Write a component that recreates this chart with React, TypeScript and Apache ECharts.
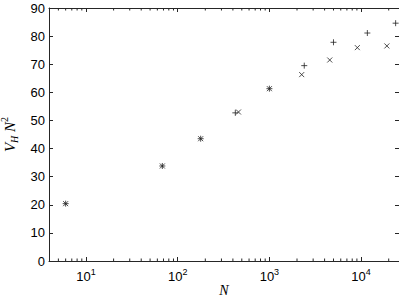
import React, { useEffect, useRef } from "react";
import * as echarts from "echarts";

const plusSeries: [number, number][] = [
  [6, 20.4], [68, 33.8], [178, 43.5], [425, 52.7], [1000, 61.3],
  [2400, 69.5], [5000, 77.8], [11700, 81.1], [23800, 84.6],
];
const crossSeries: [number, number][] = [
  [6, 20.4], [68, 33.8], [178, 43.5], [460, 53.0], [1000, 61.3],
  [2250, 66.3], [4550, 71.5], [9100, 75.9], [19100, 76.5],
];
const minorTicks: number[] = [
  5, 6, 7, 8, 9, 20, 30, 40, 50, 60, 70, 80, 90,
  200, 300, 400, 500, 600, 700, 800, 900,
  2000, 3000, 4000, 5000, 6000, 7000, 8000, 9000, 20000,
];
const xMin = 3.95;
const xMax = 25900;
const yMin = 0;
const yMax = 90;
const yInterval = 10;

const SANS = "Liberation Sans, Arial, sans-serif";
const SERIF = "Liberation Serif, Times New Roman, serif";
const AX = "#262626";

export default function App() {
  const ref = useRef<HTMLDivElement>(null);
  useEffect(() => {
    document.body.style.margin = "0";
    const chart = echarts.init(ref.current!, null, { renderer: "svg" });
    const axisCommon = {
      axisLine: { show: true, onZero: false, lineStyle: { color: AX, width: 1 } },
      axisTick: { show: true, inside: true, length: 4, lineStyle: { color: AX } },
      splitLine: { show: false },
    };
    chart.setOption({
      animation: false,
      backgroundColor: "#fff",
      grid: { left: 49, top: 8, right: 0, bottom: 39, containLabel: false, outerBoundsMode: "none" },
      xAxis: [
        {
          type: "log",
          logBase: 10,
          min: xMin,
          max: xMax,
          position: "bottom",
          ...axisCommon,
          name: "N",
          nameLocation: "middle",
          nameGap: 22,
          nameMoveOverlap: false,
          nameTextStyle: { fontFamily: SERIF, fontStyle: "italic", fontSize: 14, lineHeight: 14, color: "#000" },
          axisLabel: {
            show: true,
            margin: 6,
            showMinLabel: false,
            showMaxLabel: false,
            formatter: (v: number) => {
              const e = Math.round(Math.log10(v));
              return `{b|10}{s|${e}}`;
            },
            rich: {
              b: { fontSize: 13, fontFamily: SANS, color: "#000", lineHeight: 16, verticalAlign: "bottom" },
              s: { fontSize: 9, fontFamily: SANS, color: "#000", lineHeight: 16, verticalAlign: "top" },
            },
          },
        },
        {
          type: "log",
          logBase: 10,
          min: xMin,
          max: xMax,
          position: "top",
          ...axisCommon,
          axisLabel: { show: false },
        },
      ],
      yAxis: [
        {
          type: "value",
          min: yMin,
          max: yMax,
          interval: yInterval,
          position: "left",
          ...axisCommon,
          name: "{i|V}{sub|H}{i| N}{sup|2}",
          nameLocation: "middle",
          nameGap: 29,
          nameTextStyle: {
            rich: {
              i: { fontFamily: SERIF, fontStyle: "italic", fontSize: 15, color: "#000", lineHeight: 20, verticalAlign: "middle" },
              sub: { fontFamily: SERIF, fontStyle: "italic", fontSize: 10, color: "#000", lineHeight: 20, verticalAlign: "bottom" },
              sup: { fontFamily: SERIF, fontSize: 10, color: "#000", lineHeight: 20, verticalAlign: "top" },
            },
          },
          axisLabel: { show: true, margin: 4, fontFamily: SANS, fontSize: 13, color: "#000" },
        },
        {
          type: "value",
          min: yMin,
          max: yMax,
          interval: yInterval,
          position: "right",
          ...axisCommon,
          axisLabel: { show: false },
        },
      ],
      series: [
        {
          type: "custom",
          xAxisIndex: 0,
          yAxisIndex: 0,
          silent: true,
          data: minorTicks.map((v) => [v]),
          renderItem: (params: any, api: any) => {
            const v = api.value(0);
            const b = api.coord([v, yMin]);
            const t = api.coord([v, yMax]);
            const style = { stroke: AX, lineWidth: 1 };
            return {
              type: "group",
              children: [
                { type: "line", shape: { x1: b[0], y1: b[1], x2: b[0], y2: b[1] - 2.5 }, style },
                { type: "line", shape: { x1: t[0], y1: t[1], x2: t[0], y2: t[1] + 2.5 }, style },
              ],
            };
          },
        },
        {
          type: "scatter",
          data: plusSeries,
          symbol: "path://M5,0L5,10M0,5L10,5",
          symbolSize: 6,
          itemStyle: { color: "none", borderColor: "#222", borderWidth: 1 },
          emphasis: { disabled: true },
        },
        {
          type: "scatter",
          data: crossSeries,
          symbol: "path://M0,0L10,10M10,0L0,10",
          symbolSize: 5,
          itemStyle: { color: "none", borderColor: "#222", borderWidth: 1 },
          emphasis: { disabled: true },
        },
      ],
    });
    return () => chart.dispose();
  }, []);
  return <div ref={ref} style={{ width: 399, height: 300 }} />;
}
